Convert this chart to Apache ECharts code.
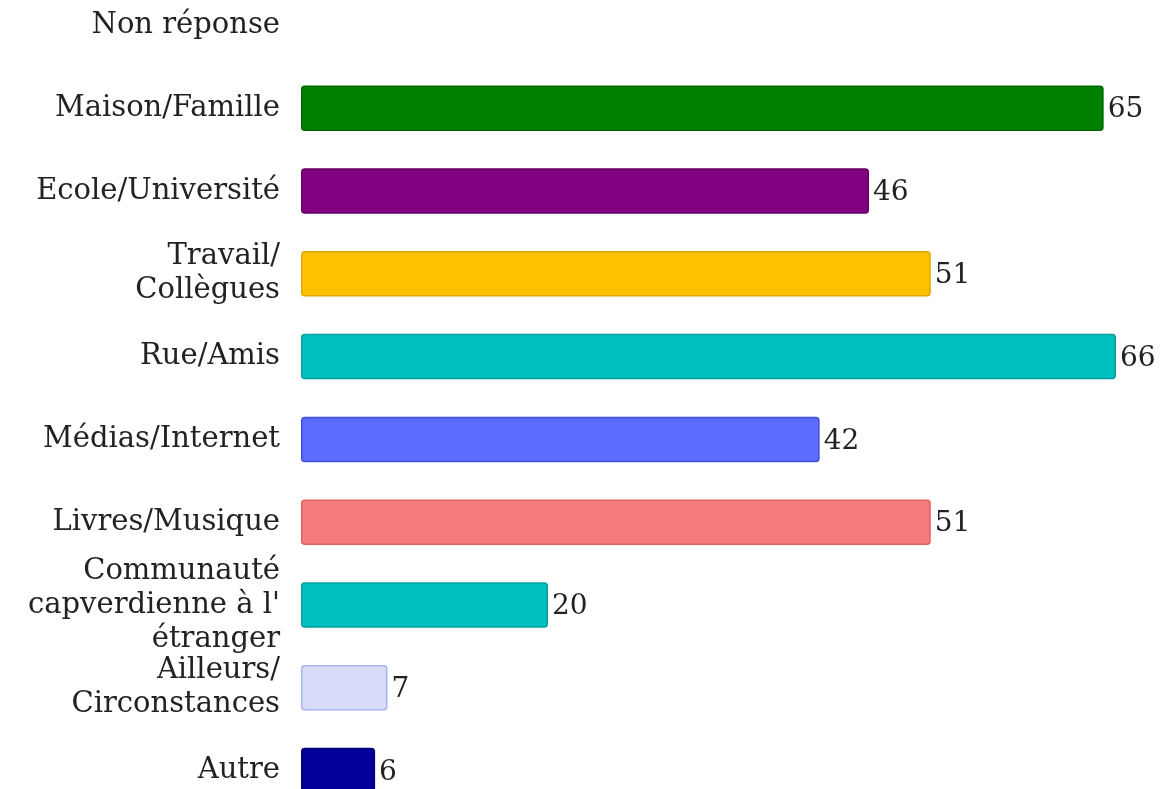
<!DOCTYPE html>
<html>
<head>
<meta charset="utf-8">
<script src="https://cdn.jsdelivr.net/npm/echarts@6/dist/echarts.min.js"></script>
<style>
  html, body { margin: 0; padding: 0; background: #fff; }
  #main { width: 1168px; height: 789px; }
</style>
</head>
<body>
<div id="main"></div>
<script>
// catégories (de haut en bas)
const categories = [
    "Non réponse",
    "Maison/Famille",
    "Ecole/Université",
    "Travail/\nCollègues",
    "Rue/Amis",
    "Médias/Internet",
    "Livres/Musique",
    "Communauté\ncapverdienne à l'\nétranger",
    "Ailleurs/\nCirconstances",
    "Autre"
];
const values = [null, 65, 46, 51, 66, 42, 51, 20, 7, 6];

// couleurs des barres
const fillColors = ["#cccccc", "#008000", "#800080", "#ffc000", "#00bfbf", "#5b6cff", "#f47c7c", "#00bfbf", "#d7ddf8", "#000099"];
const borderColors = ["#aaaaaa", "#006600", "#660066", "#e0a800", "#00a0a0", "#4050e0", "#e06060", "#00a0a0", "#a8b2ee", "#000077"];

const font = "DejaVu Serif";

const myChart = echarts.init(document.getElementById("main"));

let option = {
    backgroundColor: "#ffffff",
    animation: false,
    grid: {
        left: 301,
        top: -16,
        height: 828,
        right: 52,
        outerBoundsMode: "none"
    },
    xAxis: {
        type: "value",
        min: 0,
        max: 66,
        show: false
    },
    yAxis: {
        type: "category",
        data: categories,
        inverse: true,
        axisLine: { show: false },
        axisTick: { show: false },
        splitLine: { show: false },
        axisLabel: {
            margin: 21,
            fontFamily: font,
            fontSize: 29,
            color: "#222",
            lineHeight: 34,
            align: "right"
        }
    },
    series: [
        {
            type: "bar",
            barWidth: "55%",
            data: values.map(function (v, i) {
                return {
                    value: v,
                    itemStyle: {
                        color: fillColors[i],
                        borderColor: borderColors[i],
                        borderWidth: 1.5,
                        borderRadius: 3
                    }
                };
            }),
            label: {
                show: true,
                position: "right",
                distance: 4,
                offset: [0, 2],
                fontFamily: font,
                fontSize: 28,
                color: "#222",
                formatter: function (p) {
                    return p.value == null ? "" : p.value;
                }
            }
        }
    ]
};
myChart.setOption(option);
</script>
</body>
</html>
